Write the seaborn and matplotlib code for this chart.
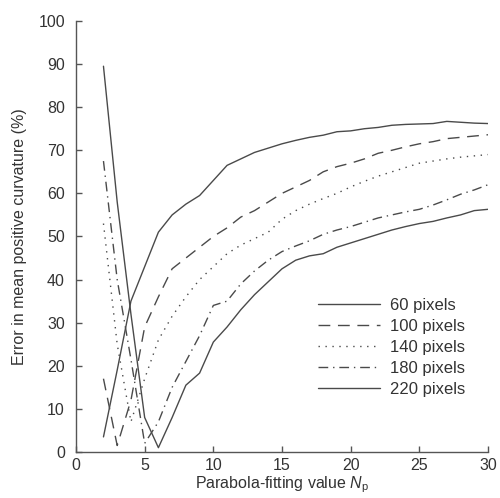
import matplotlib
matplotlib.use("Agg")
import matplotlib.pyplot as plt
import seaborn as sns
import pandas as pd
import numpy as np

np_values = list(range(2, 31))

err_60 = [3.5, 19, 35, 43, 51, 55, 57.5, 59.5, 63, 66.5, 68, 69.5, 70.5, 71.5, 72.3,
          73, 73.5, 74.3, 74.5, 75, 75.3, 75.8, 76, 76.1, 76.2, 76.7, 76.5, 76.3, 76.2]
err_100 = [17, 1.5, 12, 29, 36, 42.5, 45, 47.5, 50, 52, 54.5, 56, 58, 60, 61.5,
           63, 65, 66.2, 67, 68, 69.3, 70, 70.8, 71.5, 72, 72.7, 73, 73.3, 73.6]
err_140 = [53, 25, 7, 17, 26, 31.5, 36, 40, 43, 46, 48, 49.5, 51, 54, 56,
           57.5, 58.8, 60, 61.5, 62.8, 64, 65, 66, 67, 67.5, 68, 68.4, 68.7, 69]
err_180 = [67.5, 40, 21.5, 2, 7, 15, 21, 27, 34, 35, 39, 42, 44.5, 46.5, 47.8,
           49, 50.5, 51.5, 52.3, 53.3, 54.3, 55, 55.7, 56.3, 57.3, 58.5, 59.8, 60.8, 62]
err_220 = [89.5, 58, 32, 8, 1, 8, 15.5, 18.3, 25.5, 29, 33, 36.5, 39.5, 42.5, 44.5,
           45.5, 46, 47.5, 48.5, 49.5, 50.5, 51.5, 52.3, 53, 53.5, 54.3, 55, 56, 56.3]

labels = ["60 pixels", "100 pixels", "140 pixels", "180 pixels", "220 pixels"]
series = [err_60, err_100, err_140, err_180, err_220]

frames = []
for lab, vals in zip(labels, series):
    frames.append(pd.DataFrame({"Np": np_values, "err": vals, "window": lab}))
df = pd.concat(frames, ignore_index=True)

sns.set_style("white")
plt.rcParams["font.family"] = ["Liberation Sans", "DejaVu Sans"]
plt.rcParams["mathtext.fontset"] = "custom"
plt.rcParams["mathtext.it"] = "Liberation Sans:italic"
plt.rcParams["mathtext.rm"] = "Liberation Sans"

fig = plt.figure(figsize=(5.0, 4.98), dpi=100)
ax = fig.add_axes([0.152, 0.0924, 0.824, 0.8655])

line_color = "#4a4a4a"
palette = {lab: line_color for lab in labels}
dashes = {
    "60 pixels": "",
    "100 pixels": (8.5, 5.5),
    "140 pixels": (1, 4),
    "180 pixels": (7, 3.5, 1, 3.5),
    "220 pixels": "",
}

sns.lineplot(data=df, x="Np", y="err", hue="window", style="window",
             hue_order=labels, style_order=labels,
             palette=palette, dashes=dashes, linewidth=1.0, ax=ax,
             estimator=None, sort=False)

ax.set_xlim(0, 30)
ax.set_ylim(0, 100)
ax.set_xticks(range(0, 31, 5))
ax.set_yticks(range(0, 101, 10))

for s in ["top", "right"]:
    ax.spines[s].set_visible(False)
for s in ["left", "bottom"]:
    ax.spines[s].set_color("#555555")
    ax.spines[s].set_linewidth(1.0)

ax.tick_params(axis="both", direction="in", length=4, width=1.0,
               color="#555555", labelsize=11.5, labelcolor="#333333",
               left=True, bottom=True)
ax.tick_params(axis="y", pad=8)
ax.tick_params(axis="x", pad=4)

ax.set_xlabel(r"Parabola-fitting value $N_\mathrm{p}$", fontsize=11.5,
              color="#333333", labelpad=1)
ax.set_ylabel("Error in mean positive curvature (%)", fontsize=11.5,
              color="#333333", labelpad=8)

handles, labs = ax.get_legend_handles_labels()
leg = ax.legend(handles, labs, loc="center left", bbox_to_anchor=(0.587, 0.2425),
                frameon=False, fontsize=12, handlelength=3.7,
                handletextpad=0.6, labelspacing=0.37, borderpad=0,
                borderaxespad=0)
for t in leg.get_texts():
    t.set_color("#333333")

fig.savefig("out.png", dpi=100)
